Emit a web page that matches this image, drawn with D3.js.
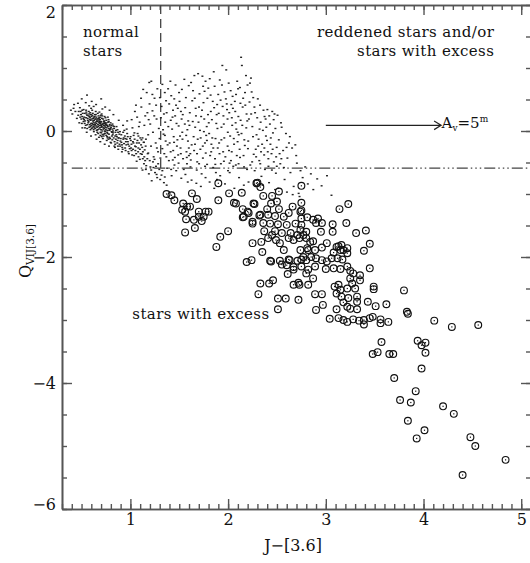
<!DOCTYPE html>
<html>
<head>
<meta charset="utf-8">
<script src="https://d3js.org/d3.v7.min.js"></script>
<style>
body { margin: 0; background: #fff; }
text { font-family: "DejaVu Serif", serif; fill: #111; }
.axis .domain { stroke: #555; stroke-width: 1.6; }
.axis .tick line { stroke: #555; stroke-width: 1.4; }
.axis .tick text { font-size: 16px; font-family: "DejaVu Serif", serif; fill: #111; }
</style>
</head>
<body>
<div id="chart"></div>
<script>
// J-[3.6] vs Q_VIJ[3.6], small dots = all stars, circles = stars with excess

// dense clump of normal stars
var clumpStars = [
  [0.437,0.31],[0.612,0.05],[0.754,0.11],[0.693,-0.07],[0.528,0.22],[0.815,-0.14],[0.661,0.19],[0.589,0.29],[0.722,0.03],[0.874,-0.02],
  [0.483,0.37],[0.702,0.15],[0.637,0.26],[0.781,-0.05],[0.569,0.13],[0.908,-0.18],[0.745,0.21],[0.626,-0.01],[0.684,0.09],[0.833,0.04],
  [0.512,0.28],[0.769,0.07],[0.594,0.17],[0.718,-0.12],[0.653,0.12],[0.861,-0.09],[0.738,0.00],[0.547,0.33],[0.806,0.09],[0.674,0.24],
  [0.958,-0.22],[0.623,0.14],[0.791,0.02],[0.706,0.27],[0.579,0.06],[0.845,-0.21],[0.664,0.02],[0.731,0.16],[0.498,0.19],[0.887,-0.05],
  [0.645,0.31],[0.762,-0.09],[0.603,0.23],[0.823,-0.03],[0.689,0.18],[0.557,0.25],[0.744,0.06],[0.927,-0.13],[0.671,-0.04],[0.797,0.13],
  [0.536,0.16],[0.715,0.10],[0.632,0.08],[0.852,0.01],[0.776,0.18],[0.598,0.36],[0.699,0.02],[0.993,-0.28],[0.658,0.16],[0.727,-0.05],
  [0.466,0.25],[0.811,-0.08],[0.618,0.20],[0.749,0.13],[0.584,0.10],[0.683,0.30],[0.869,-0.15],[0.707,0.07],[0.641,0.04],[0.785,0.08],
  [0.521,0.34],[0.736,0.23],[0.607,0.12],[0.829,-0.11],[0.679,0.13],[0.764,0.01],[0.943,-0.08],[0.563,0.20],[0.694,-0.02],[0.651,0.22],
  [0.418,0.36],[0.758,-0.15],[0.615,0.28],[0.802,0.06],[0.672,0.07],[0.543,0.09],[0.721,0.19],[0.895,-0.24],[0.628,0.17],[0.742,-0.01],
  [0.591,0.02],[0.817,0.11],[0.666,0.28],[0.771,0.14],[0.701,0.11],[0.507,0.23],[0.856,-0.06],[0.639,0.10],[0.733,0.04],[0.974,-0.17],
  [0.574,0.31],[0.688,0.05],[0.793,-0.12],[0.621,0.07],[0.753,0.17],[0.838,-0.17],[0.655,0.01],[0.712,0.24],[0.532,0.12],[0.779,0.04],
  [0.609,0.33],[0.697,0.14],[0.881,-0.11],[0.647,0.19],[0.726,-0.08],[0.552,0.27],[0.807,-0.01],[0.668,0.10],[0.761,0.09],[0.917,-0.26],
  [0.587,0.21],[0.739,0.12],[0.634,0.23],[0.822,0.00],[0.678,-0.10],[0.491,0.31],[0.708,0.20],[0.766,-0.04],[0.844,-0.08],[0.617,0.16],
  [0.935,-0.20],[0.697,0.25],[0.572,0.15],[0.788,0.10],[0.659,0.06],[0.728,0.09],[0.866,-0.19],[0.603,0.04],[0.748,0.02],[0.681,0.21],
  [0.452,0.20],[0.797,-0.18],[0.641,0.13],[0.713,0.00],[0.526,0.18],[0.834,0.07],[0.769,0.22],[0.596,0.26],[0.687,0.15],[0.901,-0.12],
  [0.629,0.11],[0.753,-0.07],[0.672,0.19],[0.815,0.03],[0.558,0.04],[0.734,0.14],[0.962,-0.13],[0.644,-0.06],[0.779,0.15],[0.703,-0.03],
  [1.012,-0.31],[1.047,-0.24],[1.083,-0.41],[1.026,-0.17],[1.118,-0.37],[1.064,-0.48],[1.139,-0.52],[1.097,-0.29],[1.173,-0.44],[1.158,-0.61],
  [1.205,-0.57],[1.189,-0.68],[1.231,-0.49],[1.252,-0.66],[1.274,-0.74],[1.218,-0.79],[1.296,-0.61],[1.318,-0.70],[1.343,-0.82],[1.262,-0.56],
  [0.984,-0.36],[1.038,-0.39],[0.951,-0.31],[1.002,-0.09],[1.072,-0.15],[0.967,-0.04],[1.109,-0.22],[1.146,-0.30],[1.183,-0.35],[1.124,-0.62],
  [0.913,-0.33],[0.876,-0.29],[0.842,-0.26],[0.781,-0.24],[0.737,-0.21],[0.692,-0.17],[0.654,-0.13],[0.597,-0.08],[0.553,-0.02],[0.508,0.05],
  [0.463,0.44],[0.502,0.51],[0.556,0.57],[0.604,0.47],[0.649,0.42],[0.701,0.51],[0.742,0.38],[0.787,0.33],[0.826,0.26],[0.881,0.17],
  [0.925,0.09],[0.967,0.16],[0.391,0.33],[0.406,0.27],[0.424,0.42],[0.477,0.13],[0.543,0.45],[0.578,0.40],[0.624,0.39],[0.713,0.35],
  [0.803,-0.19],[0.824,0.08],[0.851,-0.13],[0.868,0.02],[0.889,-0.21],[0.907,-0.06],[0.921,-0.29],[0.938,0.01],[0.954,-0.17],[0.973,-0.09],
  [0.988,-0.24],[1.004,-0.15],[1.018,-0.38],[1.033,-0.07],[1.051,-0.31],[1.066,-0.19],[1.081,-0.27],[1.097,-0.45],[1.113,-0.14],[1.128,-0.33],
  [1.142,-0.41],[1.156,-0.24],[0.812,-0.02],[0.836,-0.24],[0.858,0.07],[0.877,-0.11],[0.893,-0.01],[0.914,-0.22],[0.931,-0.11],[0.946,-0.27],
  [0.962,0.03],[0.979,-0.33],[0.996,-0.12],[1.011,-0.21],[1.027,-0.29],[1.043,-0.13],[1.059,-0.36],[1.074,-0.04],[1.089,-0.19],[1.104,-0.36],
  [1.121,-0.26],[1.136,-0.18],[1.151,-0.47],[0.819,-0.06],[0.847,-0.02],[0.872,-0.24],[0.898,-0.16],[0.926,-0.02],[0.949,-0.12],[0.977,-0.21],
  [1.007,-0.27],[1.031,-0.19],[1.056,-0.25],[1.079,-0.33],[1.101,-0.11],[1.127,-0.44],[0.786,-0.10],[0.795,0.04],[0.762,-0.02],[0.776,-0.13],
  [0.741,0.08],[0.728,0.15],[0.715,-0.06],[0.702,0.06],[0.689,0.12],[0.676,0.03],[0.663,0.15],[0.650,0.08],[0.637,0.19],[0.624,0.02],
  [0.611,0.25],[0.598,0.12],[0.585,0.18],[0.572,0.24],[0.559,0.10],[0.546,0.21],[0.533,0.28],[0.520,0.15],[0.507,0.33],[0.494,0.26],
  [0.757,0.05],[0.739,-0.04],[0.721,0.12],[0.706,-0.09],[0.692,0.22],[0.677,0.16],[0.661,-0.02],[0.646,0.26],[0.633,0.05],[0.619,0.10],
  [0.605,0.19],[0.592,0.07],[0.578,0.27],[0.564,0.17],[0.549,0.30],[0.535,0.05],[0.519,0.20],[0.503,0.12],[0.487,0.22],[0.471,0.31],
  [0.747,0.10],[0.723,0.06],[0.699,0.09],[0.675,0.20],[0.651,0.15],[0.627,0.22],[0.601,0.09],[0.581,0.23],[0.767,-0.11],[0.783,0.01],
  [1.162,-0.55],[1.177,-0.36],[1.198,-0.47],[1.213,-0.62],[1.236,-0.58],[1.247,-0.45],[1.268,-0.69],[1.284,-0.52],[1.305,-0.77],[1.327,-0.63],
  [1.352,-0.73],[1.371,-0.86]
];

// scattered (reddened) stars
var scatterStars = [
  [1.013,0.18],[1.046,0.31],[1.087,0.07],[1.124,-0.11],[1.152,0.24],[1.196,0.43],[1.231,-0.02],[1.268,0.19],[1.283,-0.33],[1.041,-0.03],
  [1.112,0.38],[1.167,0.61],[1.203,0.11],[1.247,0.52],[1.291,0.04],[1.069,0.22],[1.138,-0.18],[1.182,-0.06],[1.226,0.32],[1.259,-0.19],
  [1.021,0.05],[1.095,0.14],[1.143,0.09],[1.214,0.79],[1.238,-0.41],[1.276,0.67],[1.174,0.29],[1.109,0.52],[1.057,0.41],[1.298,-0.12],
  [1.131,0.66],[1.187,0.18],[1.244,0.24],[1.271,-0.27],[1.211,-0.24],[1.159,-0.13],[1.082,-0.08],[1.263,0.41],[1.225,0.58],[1.193,0.77],
  [1.312,0.21],[1.347,-0.36],[1.365,0.48],[1.388,0.07],[1.402,-0.19],[1.436,0.33],[1.451,-0.54],[1.472,0.12],[1.498,0.61],[1.513,-0.27],
  [1.327,0.74],[1.339,-0.05],[1.371,0.29],[1.394,-0.47],[1.418,0.56],[1.443,-0.09],[1.467,0.41],[1.489,-0.38],[1.524,0.19],[1.546,-0.61],
  [1.561,0.37],[1.583,0.02],[1.597,0.72],[1.307,-0.43],[1.356,0.14],[1.381,-0.22],[1.409,0.79],[1.427,0.03],[1.458,0.24],[1.481,-0.14],
  [1.503,0.47],[1.531,-0.02],[1.552,0.82],[1.574,-0.33],[1.592,0.16],[1.319,0.39],[1.352,0.61],[1.376,-0.59],[1.413,0.17],[1.438,-0.31],
  [1.462,0.73],[1.494,0.08],[1.517,0.31],[1.539,-0.44],[1.568,0.53],[1.589,-0.16],[1.334,0.02],[1.361,-0.16],[1.397,0.43],[1.422,-0.71],
  [1.449,0.51],[1.476,-0.24],[1.508,-0.08],[1.527,0.66],[1.557,0.11],[1.579,-0.52],[1.302,0.53],[1.343,0.27],[1.386,0.67],[1.431,0.22],
  [1.455,-0.42],[1.485,0.36],[1.536,0.26],[1.571,-0.07],[1.599,-0.39],[1.417,-0.61],[1.469,-0.63],[1.521,-0.75],[1.563,-0.69],[1.587,-0.81],
  [1.608,0.29],[1.627,-0.22],[1.641,0.64],[1.663,0.06],[1.684,-0.49],[1.702,0.38],[1.719,-0.11],[1.737,0.87],[1.756,0.19],[1.771,-0.35],
  [1.788,0.52],[1.806,-0.04],[1.823,0.31],[1.847,-0.58],[1.862,0.71],[1.879,0.12],[1.894,-0.27],[1.615,-0.57],[1.633,0.48],[1.652,-0.31],
  [1.671,0.24],[1.693,0.91],[1.712,0.01],[1.729,-0.68],[1.748,0.45],[1.763,-0.19],[1.781,0.07],[1.797,0.68],[1.816,-0.39],[1.834,0.18],
  [1.853,0.94],[1.871,-0.12],[1.888,0.42],[1.604,0.09],[1.621,0.77],[1.647,-0.09],[1.668,0.36],[1.689,-0.13],[1.707,0.59],[1.724,0.23],
  [1.742,-0.43],[1.759,0.63],[1.776,-0.07],[1.794,0.26],[1.812,0.83],[1.829,-0.21],[1.843,0.47],[1.866,-0.44],[1.883,0.26],[1.899,0.58],
  [1.613,-0.36],[1.638,0.15],[1.659,0.52],[1.679,-0.62],[1.697,0.14],[1.716,-0.29],[1.733,0.33],[1.752,-0.01],[1.769,0.79],[1.785,-0.53],
  [1.802,0.13],[1.821,0.57],[1.838,-0.11],[1.857,0.37],[1.875,-0.66],[1.891,0.04],[1.626,-0.78],[1.675,-0.83],[1.721,-0.88],[1.769,-0.74],
  [1.811,-0.81],[1.858,-0.91],[1.886,-0.77],[1.655,0.88],[1.744,0.71],
  [1.908,-0.19],[1.923,0.49],[1.941,1.04],[1.956,0.11],[1.972,-0.41],[1.989,0.34],[2.006,0.76],[2.021,-0.08],[2.038,0.21],[2.053,-0.56],
  [2.069,0.47],[2.084,0.03],[2.102,0.67],[2.118,-0.29],[2.133,1.17],[2.149,0.38],[2.166,-0.14],[2.183,0.88],[2.196,0.16],[1.915,0.81],
  [1.932,0.06],[1.949,-0.33],[1.963,0.62],[1.981,0.97],[1.997,-0.02],[2.012,0.29],[2.029,-0.47],[2.046,0.55],[2.061,-0.21],[2.077,0.13],
  [2.093,0.79],[2.109,-0.06],[2.126,0.44],[2.141,1.04],[2.158,-0.39],[2.173,0.61],[2.189,0.27],[1.904,0.28],[1.926,-0.52],[1.944,0.39],
  [1.961,-0.11],[1.977,0.51],[1.994,0.19],[2.009,-0.31],[2.026,0.64],[2.042,0.09],[2.058,-0.12],[2.073,0.31],[2.089,-0.39],[2.105,0.23],
  [2.121,0.69],[2.137,-0.04],[2.154,0.52],[2.171,-0.23],[2.186,0.05],[2.199,0.73],[1.919,-0.71],[1.968,-0.84],[2.016,-0.66],[2.064,-0.91],
  [2.112,-0.74],[2.161,-0.86],[2.194,-0.61],[1.937,0.73],[1.986,0.43],[2.033,0.42],[2.081,0.58],[2.128,0.17],[2.176,0.41],[1.952,0.24],
  [2.049,0.36],[2.097,-0.17],[2.145,0.09],[1.999,-0.63],[2.107,-0.52],
  [2.206,-0.16],[2.219,0.46],[2.234,0.84],[2.248,0.07],[2.262,-0.37],[2.276,0.29],[2.291,-0.06],[2.304,0.51],[2.319,-0.47],[2.333,0.14],
  [2.348,-0.21],[2.362,0.33],[2.377,-0.61],[2.391,0.06],[2.406,-0.33],[2.421,0.24],[2.437,-0.11],[2.452,0.31],[2.468,-0.49],[2.484,0.04],
  [2.497,-0.26],[2.213,0.19],[2.227,-0.54],[2.241,0.62],[2.255,-0.09],[2.269,0.38],[2.283,-0.29],[2.298,0.21],[2.312,-0.13],[2.327,0.41],
  [2.341,-0.72],[2.356,0.01],[2.369,-0.38],[2.384,0.19],[2.398,-0.15],[2.413,-0.56],[2.428,0.11],[2.444,-0.36],[2.459,-0.03],[2.475,0.27],
  [2.489,-0.67],[2.224,0.76],[2.257,0.53],[2.289,-0.78],[2.322,0.03],[2.353,-0.86],[2.387,-0.08],[2.419,-0.82],[2.448,-0.62],[2.481,-0.93],
  [2.209,-0.81],[2.272,-0.63],[2.337,-0.33],[2.402,0.34],[2.466,0.18],[2.236,0.27],[2.308,-0.24],[2.373,0.23],[2.433,-0.21],[2.492,-0.41],
  [2.506,0.25],[2.519,-0.14],[2.534,-0.52],[2.548,0.06],[2.563,-0.31],[2.578,-0.77],[2.592,-0.04],[2.607,-0.43],[2.623,-0.19],[2.638,-0.66],
  [2.655,-0.27],[2.671,-0.88],[2.688,-0.22],[2.704,-0.51],[2.722,-0.99],[2.741,-0.63],[2.763,-0.74],[2.789,-0.57],[2.816,-0.84],[2.847,-0.68],
  [2.872,-0.93],[2.912,-0.76],[2.957,-0.87],[3.012,-0.71],[3.058,-1.02],[2.513,-0.91],[2.541,0.13],[2.571,-0.58],[2.602,-0.97],[2.632,-0.09],
  [2.661,-1.01],[2.697,-0.39],[2.731,-1.04],[2.598,-0.26],[2.527,-0.36],
  [1.327,-0.28],[1.368,-0.41],[1.412,-0.33],[1.447,-0.18],[1.493,-0.51],[1.533,-0.13],[1.577,-0.42],[1.618,-0.46],[1.661,-0.21],[1.703,-0.52],
  [1.741,-0.24],[1.783,-0.15],[1.827,-0.33],[1.869,-0.53],[1.912,-0.36],[1.957,-0.48],[1.995,-0.24],[2.037,-0.33],[2.079,-0.54],[2.122,-0.42],
  [2.163,-0.57],[2.203,-0.28],[2.246,-0.49],[2.287,-0.41],[2.329,-0.52],[2.371,-0.27],[2.412,-0.44],[2.456,-0.29],[2.498,-0.56],[2.545,-0.44],
  [1.353,-0.07],[1.434,-0.46],[1.516,-0.36],[1.598,-0.27],[1.682,-0.36],[1.764,-0.56],[1.848,-0.27],[1.931,-0.14],[2.015,-0.51],[2.098,-0.02]
];

// stars with excess (circled)
var excessStars = [
  [1.37,-1.00],[1.42,-1.02],[1.45,-1.10],[1.63,-0.99],[1.68,-1.08],[1.54,-1.15],[1.58,-1.20],[1.53,-1.25],[1.56,-1.28],[1.61,-1.20],[1.70,-1.28],[1.80,-1.28],[1.77,-1.28],[1.75,-1.36],[1.70,-1.36],[1.65,-1.41],[1.73,-1.43],[1.57,-1.40],[1.66,-1.54],[1.56,-1.61],
  [1.90,-1.10],[2.01,-0.99],[1.90,-0.83],[1.88,-1.84],[1.92,-1.68],[2.00,-1.59],[2.19,-2.08],[2.24,-2.05],[2.14,-0.98],[2.06,-1.14],[2.15,-1.24],[2.16,-1.36],[2.20,-1.28],[2.25,-1.44],[2.26,-1.15],[2.29,-0.83],[2.36,-1.03],[2.33,-1.33],[2.25,-1.78],[2.34,-1.76],[2.35,-1.92],[2.44,-2.07],[2.55,-2.12],[2.63,-2.05],
  [2.33,-2.42],[2.42,-2.42],[2.46,-2.37],[2.31,-2.59],[2.51,-2.66],[2.59,-2.66],[2.51,-2.83],[2.67,-2.20],[2.61,-2.27],[2.67,-2.44],[2.72,-2.68],[2.52,-0.96],[2.72,-2.41],
  [2.30,-0.82],[2.33,-0.89],[2.45,-1.03],[2.75,-0.87],[2.08,-1.15],[2.27,-1.16],[2.21,-1.30],[2.15,-1.37],[2.25,-1.47],[2.32,-1.34],[2.40,-1.24],[2.44,-1.15],[2.50,-1.12],[2.52,-1.24],[2.41,-1.33],[2.36,-1.46],[2.43,-1.47],[2.48,-1.35],[2.51,-1.48],[2.57,-1.36],[2.62,-1.30],[2.66,-1.20],[2.69,-1.47],[2.60,-1.49],[2.74,-1.28],[2.75,-1.39],[2.74,-1.57],[2.71,-1.65],[2.64,-1.62],[2.55,-1.62],[2.48,-1.59],[2.45,-1.65],[2.37,-1.59],[2.41,-1.70],[2.49,-1.73],[2.53,-1.78],[2.57,-1.89],[2.62,-1.70],[2.67,-1.73],[2.73,-1.70],[2.74,-1.89],
  [2.43,-2.06],[2.53,-2.06],[2.62,-2.04],[2.67,-2.16],[2.75,-2.04],[2.75,-2.15],
  [2.75,-1.14],[2.75,-1.26],[3.14,-1.24],[3.23,-1.16],[2.81,-1.37],[2.87,-1.41],[2.92,-1.39],[2.96,-1.46],[2.90,-1.46],[3.07,-1.48],[3.07,-1.60],[2.95,-1.60],[2.80,-1.60],[2.75,-1.49],[2.77,-1.65],[2.80,-1.70],[3.21,-1.46],[3.31,-1.62],[3.41,-1.58],[3.45,-1.79],[3.39,-1.90],
  [2.87,-1.75],[3.01,-1.78],[2.96,-1.85],[2.89,-1.89],[2.84,-1.76],[2.81,-1.86],[2.77,-2.00],[2.80,-2.05],[2.85,-2.00],[2.90,-2.02],[2.96,-2.05],[3.01,-2.07],[3.06,-2.02],[3.11,-1.84],[3.16,-1.81],[3.18,-1.89],[3.15,-1.89],[3.22,-1.86],[3.08,-1.93],[3.12,-2.02],[3.17,-2.04],[2.89,-2.15],[3.00,-2.19],[3.08,-2.18],[3.15,-2.19],[3.22,-2.15],[3.45,-2.18],
  [3.22,-1.94],[3.13,-1.83],[2.82,-1.89],[3.25,-2.22],[3.28,-2.26],[3.35,-2.29],[3.35,-2.37],[3.25,-2.34],[3.27,-2.42],[3.09,-2.47],[3.13,-2.44],[3.15,-2.52],[3.22,-2.50],[3.30,-2.50],[3.11,-2.58],[3.16,-2.63],[3.23,-2.65],[3.32,-2.63],[3.18,-2.72],[3.32,-2.71],[3.22,-2.79],[3.11,-2.83],[3.25,-2.82],[3.32,-2.83],[3.43,-2.71],[3.51,-2.78],[3.62,-2.75],[3.49,-2.51],[3.49,-2.47],
  [3.48,-2.95],[3.45,-2.97],[3.56,-2.99],[3.64,-3.03],[3.56,-3.05],[3.39,-3.00],[3.39,-3.07],[3.34,-3.01],[3.28,-2.99],[3.22,-3.03],[3.18,-3.00],[3.13,-2.97],[3.04,-2.98],[2.97,-2.76],[2.90,-2.84],[2.89,-2.59],[2.96,-2.59],
  [2.82,-2.20],[2.87,-2.34],[2.80,-2.26],[2.82,-2.44],[2.73,-2.44],[2.71,-2.06],[2.60,-2.13],
  [3.80,-2.53],[3.83,-2.87],[3.84,-2.90],[4.11,-3.01],[4.29,-3.11],[4.56,-3.08],[3.57,-3.35],[3.94,-3.33],[3.98,-3.40],[4.02,-3.36],[4.02,-3.52],[3.48,-3.54],[3.53,-3.51],[3.65,-3.54],[3.69,-3.54],
  [3.98,-3.77],[3.70,-3.92],[3.92,-4.13],[3.76,-4.27],[3.87,-4.31],[4.20,-4.37],[4.31,-4.49],[3.84,-4.60],[4.01,-4.75],[3.93,-4.88],[4.48,-4.86],[4.53,-5.00],[4.84,-5.22],[4.40,-5.46]
];

var xTicks = [1, 2, 3, 4, 5];
var yTicks = [-6, -4, -2, 0, 2];

// region boundaries and the extinction vector
var jCut = 1.31;
var qCut = -0.59;
var qLineStart = 0.40;
var reddening = [[3.0, 0.09], [4.18, 0.09]];

var width = 530, height = 563;
var svg = d3.select("#chart").append("svg")
    .attr("width", width)
    .attr("height", height);

var x = d3.scaleLinear().domain([0.3, 5.1]).range([62, 531]);
var y = d3.scaleLinear().domain([-6, 2]).range([509, 5]);

// frame with inward ticks on all four sides
function addAxis(axis, transform, values, size, labels) {
    var g = svg.append("g")
        .attr("class", "axis")
        .attr("transform", transform)
        .call(axis.tickValues(values).tickSize(size).tickSizeOuter(0));
    if (!labels) g.selectAll(".tick text").remove();
    return g;
}
addAxis(d3.axisBottom(x).tickFormat(""), "translate(0,509)", x.ticks(50), -5, false);
addAxis(d3.axisTop(x).tickFormat(""), "translate(0,5)", x.ticks(50), -5, false);
addAxis(d3.axisLeft(y).tickFormat(""), "translate(62,0)", y.ticks(16), -5, false);
addAxis(d3.axisRight(y).tickFormat(""), "translate(531,0)", y.ticks(16), -5, false);

var bottomAxis = addAxis(d3.axisBottom(x).tickPadding(5).tickFormat(d3.format("d")), "translate(0,509)", xTicks, -10, true);
addAxis(d3.axisTop(x), "translate(0,5)", xTicks, -10, false);
var leftAxis = addAxis(d3.axisLeft(y).tickPadding(6).tickFormat(d3.format("d")), "translate(62,0)", yTicks, -10, true);
addAxis(d3.axisRight(y), "translate(531,0)", yTicks, -10, false);

bottomAxis.selectAll(".tick text").attr("text-anchor", "middle");
leftAxis.selectAll(".tick text").attr("dy", function(d) {
    if (d === 2) return "0.76em";
    if (d === -6) return "0.02em";
    return "0.36em";
});

// boundary lines
svg.append("line")
    .attr("x1", x(jCut)).attr("x2", x(jCut))
    .attr("y1", y(2)).attr("y2", y(qCut))
    .attr("stroke", "#444").attr("stroke-width", 1.3)
    .attr("stroke-dasharray", "9,5");
svg.append("line")
    .attr("x1", x(qLineStart)).attr("x2", x(5.1))
    .attr("y1", y(qCut)).attr("y2", y(qCut))
    .attr("stroke", "#444").attr("stroke-width", 1.3)
    .attr("stroke-dasharray", "11,3,1.5,3,1.5,3,1.5,3");

// points
svg.append("g").selectAll("rect")
    .data(clumpStars.concat(scatterStars))
    .enter().append("rect")
    .attr("x", function(d) { return x(d[0]) - 1; })
    .attr("y", function(d) { return y(d[1]) - 0.7; })
    .attr("width", 2)
    .attr("height", 1.4)
    .attr("fill", "#222");

var circ = svg.append("g").selectAll("g")
    .data(excessStars)
    .enter().append("g")
    .attr("transform", function(d) { return "translate(" + x(d[0]) + "," + y(d[1]) + ")"; });
circ.append("circle")
    .attr("r", 3.4)
    .attr("fill", "none")
    .attr("stroke", "#111")
    .attr("stroke-width", 1.15);
circ.append("rect")
    .attr("x", -0.6).attr("y", -0.6)
    .attr("width", 1.2).attr("height", 1.2)
    .attr("fill", "#111");

// reddening vector
var ax0 = x(reddening[0][0]), ax1 = x(reddening[1][0]), ay = y(reddening[0][1]);
svg.append("path")
    .attr("d", "M" + ax0 + "," + ay + "H" + ax1 +
        "M" + (ax1 - 7) + "," + (ay - 4.3) + "L" + ax1 + "," + ay + "L" + (ax1 - 7) + "," + (ay + 4.3))
    .attr("fill", "none")
    .attr("stroke", "#222")
    .attr("stroke-width", 1.2);

var av = svg.append("text")
    .attr("x", x(4.185)).attr("y", y(0.04))
    .style("font-size", "15px");
av.append("tspan").text("A");
av.append("tspan").attr("dy", 3).style("font-size", "9px").text("v");
av.append("tspan").attr("dy", -3).text("=5");
av.append("tspan").attr("dy", -6).style("font-size", "9px").text("m");

// region labels
function note(str, xv, yv) {
    svg.append("text")
        .attr("x", x(xv)).attr("y", y(yv))
        .style("font-size", "15px")
        .style("letter-spacing", "0.4px")
        .text(str);
}
note("normal", 0.515, 1.49);
note("stars", 0.515, 1.19);
note("reddened stars and/or", 2.91, 1.49);
note("stars with excess", 3.32, 1.19);
note("stars with excess", 1.02, -2.99);

// axis titles
svg.append("text")
    .attr("x", 293).attr("y", 551)
    .attr("text-anchor", "middle")
    .style("font-size", "16px")
    .text("J\u2212[3.6]");

// Q sits below the -2 label, subscript runs up beside it
var ylab = svg.append("text")
    .attr("transform", "translate(31,278) rotate(-90)")
    .attr("text-anchor", "start")
    .style("font-size", "16px");
ylab.append("tspan").text("Q");
ylab.append("tspan").attr("dy", 3).style("font-size", "10.5px").text("VIJ[3.6]");
</script>
</body>
</html>
